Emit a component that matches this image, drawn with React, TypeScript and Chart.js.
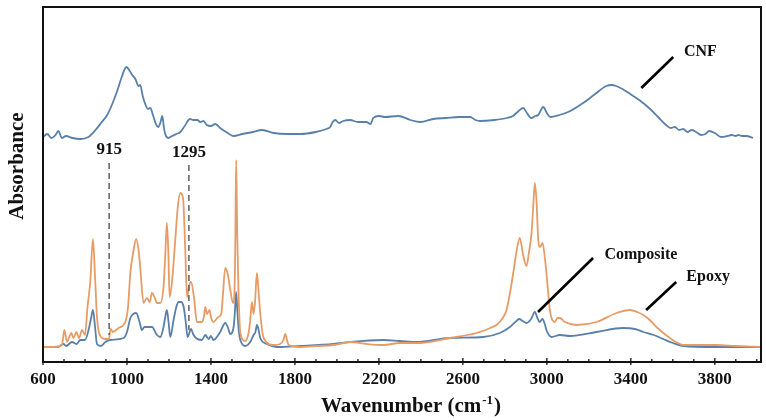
import React, { useEffect, useRef } from "react";
import { Chart, registerables } from "chart.js";

Chart.register(...registerables);

// ---- Data (wavenumber in cm-1, absorbance in arbitrary units) ----
const cnfWn = [600, 620, 640, 660, 673, 690, 710, 740, 780, 816, 850, 880, 906, 930, 955, 975, 997, 1010, 1025, 1040, 1055, 1063, 1075, 1087, 1100, 1111, 1125, 1140, 1149, 1160, 1168, 1175, 1182, 1197, 1215, 1235, 1254, 1275, 1300, 1316, 1335, 1349, 1365, 1380, 1400, 1420, 1450, 1480, 1506, 1550, 1600, 1644, 1700, 1760, 1825, 1900, 1950, 1968, 1980, 1992, 2010, 2030, 2063, 2100, 2140, 2160, 2173, 2200, 2230, 2292, 2350, 2397, 2459, 2520, 2580, 2635, 2660, 2682, 2750, 2810, 2839, 2860, 2887, 2905, 2925, 2945, 2959, 2983, 3000, 3016, 3060, 3112, 3173, 3230, 3283, 3310, 3330, 3360, 3397, 3440, 3492, 3530, 3568, 3590, 3610, 3630, 3649, 3670, 3690, 3711, 3735, 3755, 3773, 3800, 3830, 3860, 3880, 3900, 3911, 3930, 3950, 3982];
const cnfAbs = [225, 228, 224, 227, 231, 224, 226, 224, 223, 225, 232, 240, 247, 258, 272, 285, 295, 292, 287, 283, 276, 277, 266, 258, 253, 254, 246, 237, 235, 240, 246, 236, 228, 224, 226, 228, 230, 236, 243, 242, 242, 240, 241, 237, 236, 238, 233, 229, 226, 228, 230, 232, 229, 228, 228, 230, 233, 235, 240, 242, 239, 241, 242, 240, 240, 238, 244, 246, 245, 246, 242, 240, 243, 244, 245, 245, 242, 241, 242, 244, 246, 250, 254, 249, 244, 246, 247, 255, 249, 245, 247, 251, 259, 268, 276, 277, 276, 273, 268, 262, 253, 245, 237, 234, 235, 232, 233, 230, 232, 230, 227, 228, 231, 229, 225, 226, 227, 226, 227, 226, 226, 224];

const epoxyWn = [600, 650, 690, 702, 714, 725, 735, 745, 759, 772, 786, 800, 812, 825, 838, 848, 857, 866, 876, 895, 914, 922, 933, 960, 992, 1005, 1016, 1030, 1044, 1055, 1063, 1079, 1095, 1108, 1119, 1131, 1143, 1159, 1174, 1183, 1190, 1197, 1203, 1214, 1230, 1242, 1254, 1267, 1278, 1286, 1295, 1305, 1319, 1333, 1357, 1366, 1373, 1381, 1393, 1400, 1411, 1435, 1449, 1458, 1468, 1480, 1492, 1505, 1512, 1516, 1520, 1525, 1531, 1540, 1563, 1580, 1587, 1595, 1603, 1610, 1619, 1627, 1635, 1651, 1698, 1730, 1745, 1754, 1762, 1770, 1825, 1900, 1984, 2063, 2143, 2221, 2300, 2400, 2538, 2665, 2730, 2760, 2790, 2808, 2825, 2840, 2855, 2871, 2887, 2903, 2915, 2927, 2935, 2943, 2951, 2959, 2968, 2979, 2990, 2998, 3006, 3014, 3026, 3038, 3050, 3062, 3086, 3141, 3236, 3332, 3395, 3430, 3459, 3490, 3522, 3555, 3586, 3615, 3649, 3807, 3900, 4014];
const epoxyAbs = [15, 15, 17, 32, 20, 25, 29, 24, 30, 24, 32, 27, 55, 80, 123, 85, 45, 30, 25, 23, 23, 33, 30, 34, 40, 55, 89, 110, 123, 112, 95, 59, 64, 60, 69, 65, 59, 59, 75, 110, 139, 110, 65, 79, 122, 155, 169, 164, 110, 65, 75, 80, 65, 40, 40, 45, 55, 48, 52, 45, 40, 45, 48, 70, 94, 88, 72, 59, 69, 120, 202, 130, 72, 29, 21, 30, 42, 60, 48, 60, 89, 70, 48, 24, 17, 18, 22, 28, 22, 17, 15, 16, 17, 20, 18, 17, 19, 19, 24, 29, 34, 37, 44, 52, 70, 89, 110, 124, 107, 96, 110, 129, 155, 179, 160, 122, 115, 119, 105, 89, 70, 52, 42, 40, 44, 44, 40, 37, 40, 49, 52, 50, 47, 42, 35, 29, 24, 20, 17, 17, 16, 15];

const compositeWn = [600, 670, 698, 710, 738, 760, 778, 800, 817, 830, 838, 848, 857, 876, 897, 920, 984, 1000, 1016, 1030, 1044, 1060, 1071, 1083, 1095, 1119, 1143, 1159, 1174, 1185, 1190, 1198, 1206, 1222, 1235, 1246, 1258, 1270, 1280, 1289, 1305, 1315, 1328, 1357, 1373, 1389, 1400, 1411, 1444, 1468, 1480, 1492, 1508, 1514, 1520, 1526, 1533, 1540, 1563, 1587, 1603, 1612, 1619, 1627, 1635, 1667, 1714, 1825, 1984, 2063, 2221, 2300, 2379, 2538, 2697, 2776, 2824, 2850, 2868, 2885, 2903, 2925, 2943, 2955, 2965, 2979, 2990, 2998, 3010, 3022, 3062, 3110, 3236, 3363, 3420, 3459, 3510, 3554, 3600, 3649, 3800, 4014];
const compositeAbs = [15, 15, 18, 16, 20, 18, 22, 22, 32, 45, 52, 35, 18, 16, 20, 22, 24, 30, 44, 48, 49, 40, 32, 35, 35, 35, 27, 25, 35, 48, 52, 40, 25, 42, 55, 60, 60, 55, 40, 25, 33, 28, 24, 22, 27, 23, 26, 22, 30, 39, 35, 28, 35, 50, 70, 50, 30, 22, 16, 20, 27, 30, 37, 32, 24, 18, 15, 16, 18, 20, 22, 21, 20, 24, 25, 29, 35, 40, 43, 41, 39, 43, 50, 44, 40, 43, 38, 32, 27, 25, 27, 26, 30, 34, 33, 30, 27, 23, 19, 16, 15, 15];

const xTickLabels = [600, 1000, 1400, 1800, 2200, 2600, 3000, 3400, 3800];
const markedBands = [915, 1295];

const BLUE = "#5a80a9";
const ORANGE = "#e79c66";
const SERIF = "'Liberation Serif', 'Times New Roman', serif";

const toPoints = (xs: number[], ys: number[]) => xs.map((x, i) => ({ x, y: ys[i] }));

const annotationPlugin = {
  id: "ftirAnnotations",
  afterDatasetsDraw(chart: any) {
    const { ctx, chartArea } = chart;
    const xs = chart.scales.x;
    const ys = chart.scales.y;
    const px = (v: number) => xs.getPixelForValue(v);
    const py = (v: number) => ys.getPixelForValue(v);
    ctx.save();

    // dashed marker lines with labels
    const bandLines = [
      { wn: markedBands[0], y0: 199, y1: 27, ly: 212 },
      { wn: markedBands[1], y0: 197, y1: 32, ly: 209 },
    ];
    ctx.strokeStyle = "#555";
    ctx.lineWidth = 1.4;
    ctx.setLineDash([6, 4]);
    bandLines.forEach((b) => {
      ctx.beginPath();
      ctx.moveTo(px(b.wn), py(b.y0));
      ctx.lineTo(px(b.wn), py(b.y1));
      ctx.stroke();
    });
    ctx.setLineDash([]);
    ctx.fillStyle = "#111";
    ctx.font = `bold 17px ${SERIF}`;
    ctx.textAlign = "center";
    ctx.textBaseline = "middle";
    bandLines.forEach((b) => {
      ctx.fillText(String(b.wn), px(b.wn), py(b.ly));
    });

    // series labels with leader lines
    const labels = [
      { text: "CNF", x0: 3450, y0: 274, x1: 3602, y1: 305, tx: 3731, ty: 310 },
      { text: "Composite", x0: 2958, y0: 50, x1: 3220, y1: 104, tx: 3448, ty: 107 },
      { text: "Epoxy", x0: 3473, y0: 52, x1: 3616, y1: 80, tx: 3768, ty: 85 },
    ];
    ctx.strokeStyle = "#000";
    ctx.lineWidth = 2.6;
    ctx.lineCap = "butt";
    labels.forEach((l) => {
      ctx.beginPath();
      ctx.moveTo(px(l.x0), py(l.y0));
      ctx.lineTo(px(l.x1), py(l.y1));
      ctx.stroke();
      ctx.font = `bold 16px ${SERIF}`;
      ctx.fillText(l.text, px(l.tx), py(l.ty));
    });

    // frame
    ctx.strokeStyle = "#111";
    ctx.lineWidth = 2;
    ctx.strokeRect(chartArea.left, chartArea.top, chartArea.right - chartArea.left, chartArea.bottom - chartArea.top);

    // tick marks
    xs.ticks.forEach((t: any) => {
      const x = px(t.value);
      const major = xTickLabels.includes(t.value);
      ctx.lineWidth = 1.3;
      ctx.beginPath();
      ctx.moveTo(x, chartArea.bottom - (major ? 4 : 3));
      ctx.lineTo(x, chartArea.bottom + (major ? 3 : 1));
      ctx.stroke();
    });

    // axis titles
    ctx.fillStyle = "#111";
    ctx.font = `bold 21px ${SERIF}`;
    ctx.textAlign = "left";
    ctx.textBaseline = "alphabetic";
    const main = "Wavenumber (cm";
    const sup = "-1";
    const close = ")";
    const wMain = ctx.measureText(main).width;
    const wClose = ctx.measureText(close).width;
    ctx.font = `bold 13px ${SERIF}`;
    const wSup = ctx.measureText(sup).width;
    const cx = (chartArea.left + chartArea.right) / 2 + 8;
    const start = cx - (wMain + wSup + wClose) / 2;
    const base = 412;
    ctx.font = `bold 21px ${SERIF}`;
    ctx.fillText(main, start, base);
    ctx.font = `bold 13px ${SERIF}`;
    ctx.fillText(sup, start + wMain + 1, base - 8);
    ctx.font = `bold 21px ${SERIF}`;
    ctx.fillText(close, start + wMain + wSup + 2, base);

    ctx.save();
    ctx.translate(18, 166);
    ctx.rotate(-Math.PI / 2);
    ctx.textAlign = "center";
    ctx.textBaseline = "middle";
    ctx.fillText("Absorbance", 0, 0);
    ctx.restore();

    ctx.restore();
  },
};

export default function App() {
  const canvasRef = useRef<HTMLCanvasElement | null>(null);

  useEffect(() => {
    if (!canvasRef.current) return;
    const chart = new Chart(canvasRef.current, {
      type: "scatter",
      data: {
        datasets: [
          {
            label: "CNF",
            data: toPoints(cnfWn, cnfAbs),
            showLine: true,
            borderColor: BLUE,
            borderWidth: 1.8,
            pointRadius: 0,
            cubicInterpolationMode: "monotone",
          },
          {
            label: "Epoxy",
            data: toPoints(epoxyWn, epoxyAbs),
            showLine: true,
            borderColor: ORANGE,
            borderWidth: 1.8,
            pointRadius: 0,
            cubicInterpolationMode: "monotone",
          },
          {
            label: "Composite",
            data: toPoints(compositeWn, compositeAbs),
            showLine: true,
            borderColor: BLUE,
            borderWidth: 1.8,
            pointRadius: 0,
            cubicInterpolationMode: "monotone",
          },
        ],
      },
      options: {
        responsive: false,
        animation: false,
        layout: { padding: { left: 43, right: 5, top: 7, bottom: 0 } },
        plugins: {
          legend: { display: false },
          tooltip: { enabled: false },
        },
        scales: {
          x: {
            type: "linear",
            position: "bottom",
            min: 600,
            max: 4020,
            grid: { display: false, drawTicks: false },
            border: { display: false },
            afterFit: (scale: any) => {
              scale.height = 58;
            },
            ticks: {
              stepSize: 100,
              autoSkip: false,
              maxRotation: 0,
              includeBounds: false,
              padding: 7,
              color: "#111",
              font: { family: SERIF, size: 17, weight: "bold" },
              callback: (v: any) => (xTickLabels.includes(Number(v)) ? String(v) : ""),
            },
          },
          y: {
            display: false,
            min: 0,
            max: 355,
          },
        },
      },
      plugins: [annotationPlugin],
    } as any);
    return () => chart.destroy();
  }, []);

  return (
    <div style={{ position: "fixed", left: 0, top: 0, width: 766, height: 420, background: "#fff" }}>
      <canvas ref={canvasRef} width={766} height={420} style={{ display: "block" }} />
    </div>
  );
}
